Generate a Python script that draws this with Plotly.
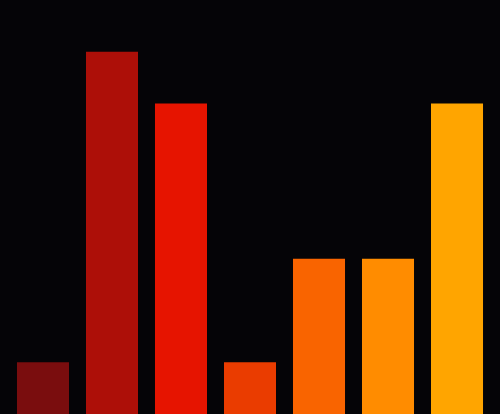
import plotly.graph_objects as go

# ==========================================
# DATA
# ==========================================
categories = ["A", "B", "C", "D", "E", "F", "G"]
values = [1, 7, 6, 1, 3, 3, 6]
bar_colors = ["#7a0d0e", "#ad0f08", "#e61400", "#ea3c00", "#f96400", "#ff8c00", "#ffa500"]

BG = "#050407"

fig = go.Figure()
fig.add_trace(go.Bar(
    x=categories, y=values,
    marker=dict(color=bar_colors, line=dict(width=0)),
    hoverinfo="skip",
))

fig.update_layout(
    width=500, height=414,
    margin=dict(l=0, r=0, t=0, b=0),
    paper_bgcolor=BG, plot_bgcolor=BG,
    bargap=0.246,
    showlegend=False,
)
fig.update_xaxes(visible=False, range=[-0.623, 6.623])
fig.update_yaxes(visible=False, range=[0, 8])

# drop the page's default body margin so the chart fills the window
fig.write_html(
    "out.html",
    config={"displayModeBar": False},
    post_script="document.body.style.margin='0';document.body.style.background='%s';" % BG,
)
